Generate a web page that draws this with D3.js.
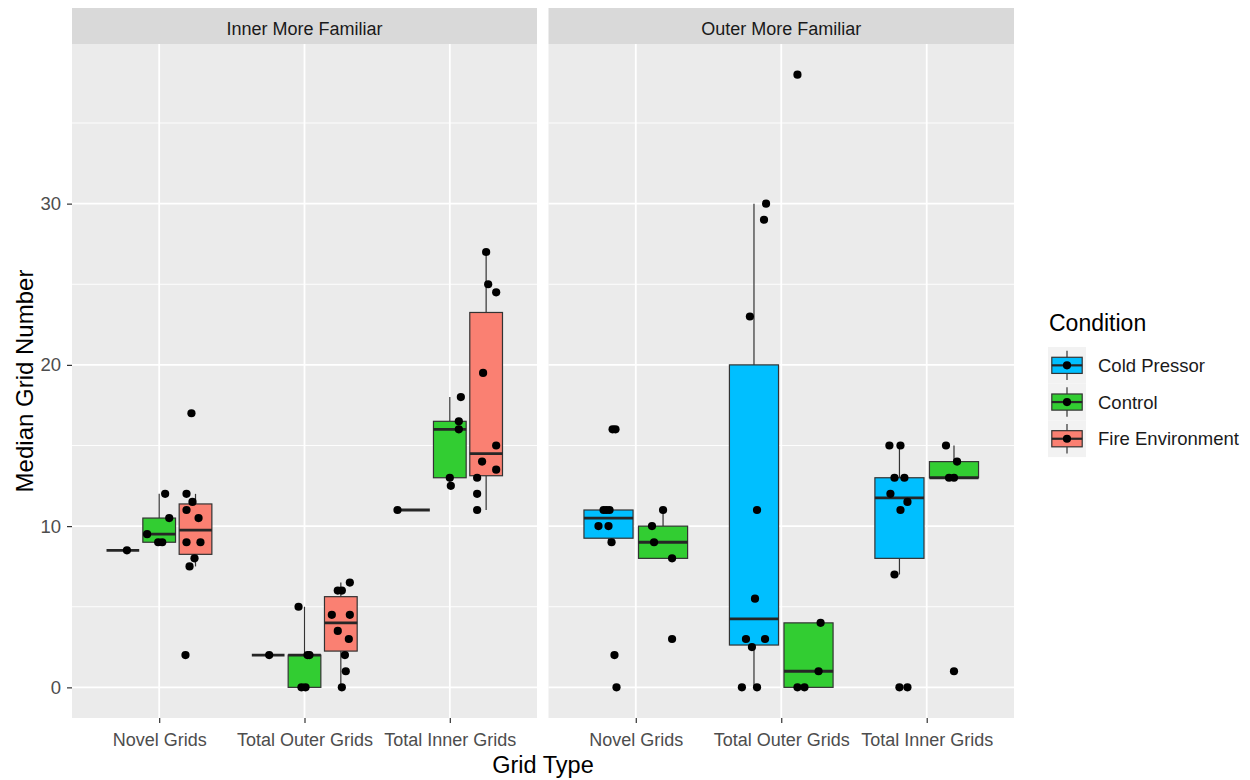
<!DOCTYPE html>
<html>
<head>
<meta charset="utf-8">
<script src="https://cdn.jsdelivr.net/npm/d3@7"></script>
<style>
  body { margin: 0; background: #ffffff; }
  svg { display: block; font-family: "Liberation Sans", Arial, Helvetica, sans-serif; }
</style>
</head>
<body>
<svg id="chart" width="1250" height="780"></svg>
<script>
// ---- categories ----
const panelNames = ["Inner More Familiar", "Outer More Familiar"];
const gridTypes = ["Novel Grids", "Total Outer Grids", "Total Inner Grids"];
const conditions = ["Cold Pressor", "Control", "Fire Environment"];
const yTickValues = [0, 10, 20, 30];
const yMinorValues = [5, 15, 25, 35];

// ---- observations: median grid number per participant ----
// Inner More Familiar
const innerNovelCold    = [8.5];
const innerNovelControl = [12, 10.5, 9.5, 9, 9];
const innerNovelFire    = [17, 12, 11.5, 11, 10.5, 9, 9, 8, 7.5, 2];
const innerOuterCold    = [2];
const innerOuterControl = [5, 2, 2, 0, 0];
const innerOuterFire    = [6.5, 6, 6, 4.5, 4.5, 3.5, 3, 2, 1, 0];
const innerInnerCold    = [11];
const innerInnerControl = [18, 16.5, 16, 13, 12.5];
const innerInnerFire    = [27, 25, 24.5, 19.5, 15, 14, 13.5, 13, 12, 11];
// Outer More Familiar
const outerNovelCold    = [16, 16, 11, 11, 11, 10, 10, 9, 2, 0];
const outerNovelControl = [11, 10, 9, 8, 3];
const outerOuterCold    = [30, 29, 23, 11, 5.5, 3, 3, 2.5, 0, 0];
const outerOuterControl = [38, 4, 1, 0, 0];
const outerInnerCold    = [15, 15, 13, 13, 12, 11.5, 11, 7, 0, 0];
const outerInnerControl = [15, 14, 13, 13, 1];

// ---- horizontal jitter of each point, in x-category units ----
const innerNovelColdJitter    = [0.028];
const innerNovelControlJitter = [0.041, 0.069, -0.083, -0.007, 0.021];
const innerNovelFireJitter    = [-0.028, -0.062, -0.021, -0.062, 0.021, -0.062, 0.034, -0.007, -0.041, -0.069];
const innerOuterColdJitter    = [0.007];
const innerOuterControlJitter = [-0.041, 0.034, 0.021, -0.021, 0.007];
const innerOuterFireJitter    = [0.062, -0.021, 0.007, -0.062, 0.062, -0.021, 0.055, 0.028, 0.034, 0.007];
const innerInnerColdJitter    = [-0.110];
const innerInnerControlJitter = [0.076, 0.062, 0.062, 0, 0.007];
const innerInnerFireJitter    = [0, 0.014, 0.069, -0.021, 0.069, -0.028, 0.069, -0.062, -0.062, -0.062];
const outerNovelColdJitter    = [0.028, 0.048, -0.034, 0.007, -0.014, -0.069, 0, 0.021, 0.041, 0.055];
const outerNovelControlJitter = [0, -0.076, -0.062, 0.062, 0.062];
const outerOuterColdJitter    = [0.083, 0.069, -0.028, 0.021, 0.007, -0.055, 0.076, -0.014, -0.083, 0.021];
const outerOuterControlJitter = [-0.076, 0.083, 0.069, -0.076, -0.028];
const outerInnerColdJitter    = [-0.069, 0.007, -0.034, 0.034, -0.062, 0.055, 0.007, -0.034, 0, 0.055];
const outerInnerControlJitter = [-0.055, 0.021, -0.034, 0, 0];

// ---- long table of groups built from the arrays above ----
const groups = [
  { panel: panelNames[0], grid: gridTypes[0], cond: conditions[0], values: innerNovelCold,    jitter: innerNovelColdJitter },
  { panel: panelNames[0], grid: gridTypes[0], cond: conditions[1], values: innerNovelControl, jitter: innerNovelControlJitter },
  { panel: panelNames[0], grid: gridTypes[0], cond: conditions[2], values: innerNovelFire,    jitter: innerNovelFireJitter },
  { panel: panelNames[0], grid: gridTypes[1], cond: conditions[0], values: innerOuterCold,    jitter: innerOuterColdJitter },
  { panel: panelNames[0], grid: gridTypes[1], cond: conditions[1], values: innerOuterControl, jitter: innerOuterControlJitter },
  { panel: panelNames[0], grid: gridTypes[1], cond: conditions[2], values: innerOuterFire,    jitter: innerOuterFireJitter },
  { panel: panelNames[0], grid: gridTypes[2], cond: conditions[0], values: innerInnerCold,    jitter: innerInnerColdJitter },
  { panel: panelNames[0], grid: gridTypes[2], cond: conditions[1], values: innerInnerControl, jitter: innerInnerControlJitter },
  { panel: panelNames[0], grid: gridTypes[2], cond: conditions[2], values: innerInnerFire,    jitter: innerInnerFireJitter },
  { panel: panelNames[1], grid: gridTypes[0], cond: conditions[0], values: outerNovelCold,    jitter: outerNovelColdJitter },
  { panel: panelNames[1], grid: gridTypes[0], cond: conditions[1], values: outerNovelControl, jitter: outerNovelControlJitter },
  { panel: panelNames[1], grid: gridTypes[1], cond: conditions[0], values: outerOuterCold,    jitter: outerOuterColdJitter },
  { panel: panelNames[1], grid: gridTypes[1], cond: conditions[1], values: outerOuterControl, jitter: outerOuterControlJitter },
  { panel: panelNames[1], grid: gridTypes[2], cond: conditions[0], values: outerInnerCold,    jitter: outerInnerColdJitter },
  { panel: panelNames[1], grid: gridTypes[2], cond: conditions[1], values: outerInnerControl, jitter: outerInnerControlJitter }
];

// ---- appearance ----
const fillColor = d3.scaleOrdinal().domain(conditions).range(["#00BFFF", "#32CD32", "#FA8072"]);
const layout = {
  panelX: [[72, 537], [548.5, 1014]],
  top: 44, bottom: 718,
  stripTop: 8
};
const lineCol = "#333333";
const tickTextCol = "#4D4D4D";

const svg = d3.select("#chart");

// y scale with 5% expansion like ggplot2
const allValues = groups.flatMap(g => g.values);
const [vMin, vMax] = d3.extent(allValues);
const pad = (vMax - vMin) * 0.05;
const y = d3.scaleLinear().domain([vMin - pad, vMax + pad]).range([layout.bottom, layout.top]);

// box statistics (R type-7 quantiles, 1.5 IQR whiskers)
function boxStats(vals) {
  const s = vals.slice().sort(d3.ascending);
  const q1 = d3.quantile(s, 0.25), med = d3.quantile(s, 0.5), q3 = d3.quantile(s, 0.75);
  const iqr = q3 - q1;
  const inside = s.filter(v => v >= q1 - 1.5 * iqr && v <= q3 + 1.5 * iqr);
  return { q1, med, q3, lo: d3.min(inside), hi: d3.max(inside) };
}

panelNames.forEach((pName, pi) => {
  const [x0, x1] = layout.panelX[pi];
  const x = d3.scalePoint().domain(gridTypes).range([x0, x1]).padding(0.6);
  const step = x.step();
  const g = svg.append("g");

  // panel background and grid
  g.append("rect").attr("x", x0).attr("y", layout.top)
    .attr("width", x1 - x0).attr("height", layout.bottom - layout.top).attr("fill", "#EBEBEB");
  g.selectAll(".minor").data(yMinorValues).join("line")
    .attr("x1", x0).attr("x2", x1).attr("y1", d => y(d)).attr("y2", d => y(d))
    .attr("stroke", "#FFFFFF").attr("stroke-width", 0.9);
  g.selectAll(".major").data(yTickValues).join("line")
    .attr("x1", x0).attr("x2", x1).attr("y1", d => y(d)).attr("y2", d => y(d))
    .attr("stroke", "#FFFFFF").attr("stroke-width", 1.8);
  g.selectAll(".vmajor").data(gridTypes).join("line")
    .attr("x1", d => x(d)).attr("x2", d => x(d)).attr("y1", layout.top).attr("y2", layout.bottom)
    .attr("stroke", "#FFFFFF").attr("stroke-width", 1.8);

  // strip
  svg.append("rect").attr("x", x0).attr("y", layout.stripTop)
    .attr("width", x1 - x0).attr("height", layout.top - layout.stripTop).attr("fill", "#D9D9D9");
  svg.append("text").attr("x", (x0 + x1) / 2).attr("y", 34.5)
    .attr("text-anchor", "middle").attr("font-size", 18).attr("fill", "#1A1A1A").text(pName);

  // dodged boxes
  const pGroups = groups.filter(d => d.panel === pName);
  pGroups.forEach(d => {
    const here = pGroups.filter(o => o.grid === d.grid).map(o => o.cond)
      .sort((a, b) => conditions.indexOf(a) - conditions.indexOf(b));
    const n = here.length;
    const slot = 0.75 * step / n;
    const idx = here.indexOf(d.cond);
    d.cx = x(d.grid) + (idx - (n - 1) / 2) * slot;
    d.bw = slot * 0.9;
    d.stats = boxStats(d.values);
  });

  const boxes = g.selectAll(".box").data(pGroups).join("g");
  boxes.append("line")
    .attr("x1", d => d.cx).attr("x2", d => d.cx)
    .attr("y1", d => y(d.stats.hi)).attr("y2", d => y(d.stats.q3))
    .attr("stroke", lineCol).attr("stroke-width", 1.2);
  boxes.append("line")
    .attr("x1", d => d.cx).attr("x2", d => d.cx)
    .attr("y1", d => y(d.stats.q1)).attr("y2", d => y(d.stats.lo))
    .attr("stroke", lineCol).attr("stroke-width", 1.2);
  boxes.append("rect")
    .attr("x", d => d.cx - d.bw / 2).attr("width", d => d.bw)
    .attr("y", d => y(d.stats.q3)).attr("height", d => y(d.stats.q1) - y(d.stats.q3))
    .attr("fill", d => fillColor(d.cond)).attr("stroke", lineCol).attr("stroke-width", 1.2);
  boxes.append("line")
    .attr("x1", d => d.cx - d.bw / 2).attr("x2", d => d.cx + d.bw / 2)
    .attr("y1", d => y(d.stats.med)).attr("y2", d => y(d.stats.med))
    .attr("stroke", "#262626").attr("stroke-width", 2.8);

  // jittered observations
  const pts = pGroups.flatMap(d => d.values.map((v, i) => ({ v, px: d.cx + d.jitter[i] * step })));
  g.selectAll(".pt").data(pts).join("circle")
    .attr("cx", d => d.px).attr("cy", d => y(d.v)).attr("r", 4.1).attr("fill", "#000000");

  // x axis
  const xAxis = svg.append("g").attr("transform", `translate(0,${layout.bottom})`)
    .call(d3.axisBottom(x).tickSize(5).tickPadding(10));
  xAxis.select(".domain").remove();
  xAxis.selectAll("line").attr("stroke", lineCol).attr("stroke-width", 1.2);
  xAxis.selectAll("text").attr("font-size", 18).attr("fill", tickTextCol)
    .attr("font-family", "Liberation Sans, Arial, sans-serif");

  if (pi === 0) {
    const yAxis = svg.append("g").attr("transform", `translate(${x0},0)`)
      .call(d3.axisLeft(y).tickValues(yTickValues).tickSize(5).tickPadding(6));
    yAxis.select(".domain").remove();
    yAxis.selectAll("line").attr("stroke", lineCol).attr("stroke-width", 1.2);
    yAxis.selectAll("text").attr("font-size", 18.5).attr("fill", tickTextCol)
      .attr("font-family", "Liberation Sans, Arial, sans-serif");
  }
});

// axis titles
svg.append("text").attr("x", (layout.panelX[0][0] + layout.panelX[1][1]) / 2).attr("y", 773)
  .attr("text-anchor", "middle").attr("font-size", 23.5).attr("fill", "#000").text("Grid Type");
svg.append("text").attr("transform", `translate(33,${(layout.top + layout.bottom) / 2}) rotate(-90)`)
  .attr("text-anchor", "middle").attr("font-size", 24).attr("fill", "#000").text("Median Grid Number");

// legend
const legend = svg.append("g").attr("transform", "translate(1048,0)");
legend.append("text").attr("x", 1).attr("y", 331).attr("font-size", 23).attr("fill", "#000").text("Condition");
const keyW = 38, keyH = 36.7, keyTop = 347;
const keys = legend.selectAll(".key").data(conditions).join("g")
  .attr("transform", (d, i) => `translate(0,${keyTop + i * keyH})`);
keys.append("rect").attr("width", keyW).attr("height", keyH).attr("fill", "#F2F2F2");
keys.append("line").attr("x1", keyW / 2).attr("x2", keyW / 2).attr("y1", keyH * 0.1).attr("y2", keyH * 0.9)
  .attr("stroke", lineCol).attr("stroke-width", 1.2);
keys.append("rect").attr("x", keyW * 0.1).attr("width", keyW * 0.8)
  .attr("y", keyH * 0.28).attr("height", keyH * 0.44)
  .attr("fill", d => fillColor(d)).attr("stroke", lineCol).attr("stroke-width", 1.2);
keys.append("line").attr("x1", keyW * 0.1).attr("x2", keyW * 0.9).attr("y1", keyH / 2).attr("y2", keyH / 2)
  .attr("stroke", "#262626").attr("stroke-width", 2.2);
keys.append("circle").attr("cx", keyW / 2).attr("cy", keyH / 2).attr("r", 4.1).attr("fill", "#000");
keys.append("text").attr("x", 50).attr("y", keyH / 2 + 6.5).attr("font-size", 18.5).attr("fill", "#1A1A1A").text(d => d);
</script>
</body>
</html>
